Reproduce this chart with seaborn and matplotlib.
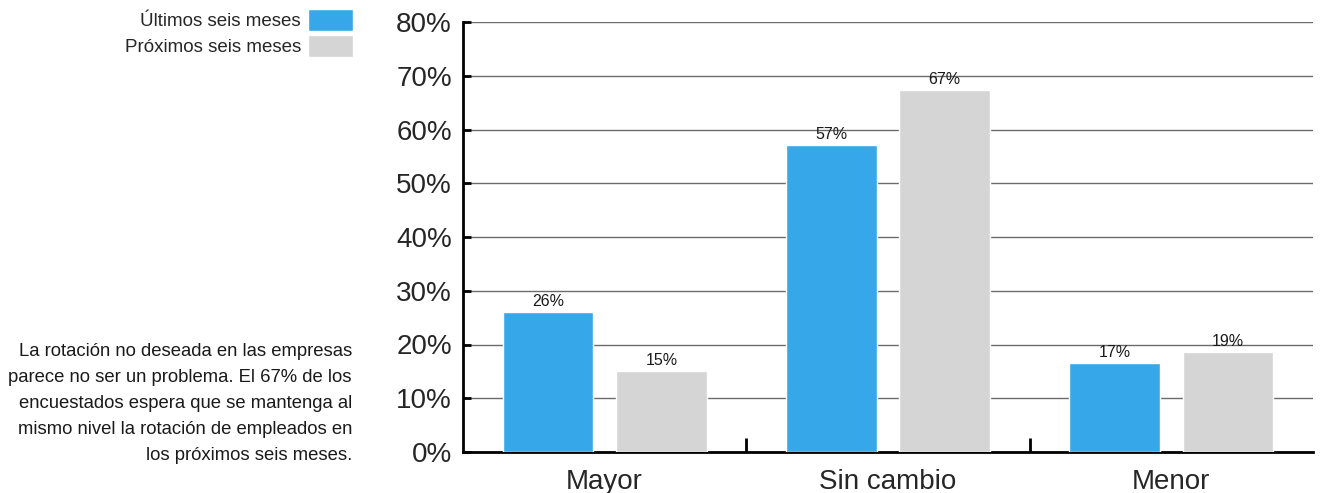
import pandas as pd
import matplotlib.pyplot as plt
import seaborn as sns
from matplotlib.ticker import FixedLocator, FuncFormatter

# data
categories = ['Mayor', 'Sin cambio', 'Menor']
series_names = ['Últimos seis meses', 'Próximos seis meses']
ultimos = [26.1, 57.1, 16.6]
proximos = [15.1, 67.3, 18.6]
colors = ['#36A7E8', '#D5D5D5']

note = ('La rotación no deseada en las empresas\n'
        'parece no ser un problema. El 67% de los\n'
        'encuestados espera que se mantenga al\n'
        'mismo nivel la rotación de empleados en\n'
        'los próximos seis meses.')

df = pd.DataFrame({
    'cat': categories * 2,
    'serie': [series_names[0]] * 3 + [series_names[1]] * 3,
    'val': ultimos + proximos,
})

sns.set_style('white')
plt.rcParams['font.family'] = ['Liberation Sans', 'DejaVu Sans']

fig = plt.figure(figsize=(13.2, 4.93), dpi=100)
ax = fig.add_axes([463 / 1320, 1 - 452 / 493, 850 / 1320, 430 / 493])

sns.barplot(data=df, x='cat', y='val', hue='serie', palette=colors,
            width=0.8, gap=0.2, saturation=1, ax=ax, zorder=3)

for cont in ax.containers:
    ax.bar_label(cont, labels=[f'{v:.0f}%' for v in cont.datavalues],
                 padding=2, fontsize=11.5, color='#1a1a1a', zorder=4)

ax.set_ylim(0, 80)
ax.set_xlim(-0.5, 2.5)
ax.set_yticks(range(0, 81, 10))
ax.yaxis.set_major_formatter(FuncFormatter(lambda v, p: f'{v:.0f}%'))
ax.grid(axis='y', color='#6b6b6b', linewidth=1, zorder=0)
ax.set_axisbelow(True)
ax.tick_params(axis='y', direction='in', length=6, width=2, color='black',
               labelsize=20, pad=8, left=True)
ax.tick_params(axis='x', which='major', length=0, labelsize=20, pad=12)
ax.xaxis.set_minor_locator(FixedLocator([0.5, 1.5]))
ax.tick_params(axis='x', which='minor', direction='in', length=10, width=2,
               color='black', bottom=True)
ax.set_xlabel('')
ax.set_ylabel('')
for s in ['top', 'right']:
    ax.spines[s].set_visible(False)
for s in ['left', 'bottom']:
    ax.spines[s].set_color('black')
    ax.spines[s].set_linewidth(2)

sns.move_legend(ax, loc='upper right', bbox_to_anchor=(353 / 1320, 1 - 9 / 493),
                bbox_transform=fig.transFigure, frameon=False, title=None,
                markerfirst=False, fontsize=13.5, handlelength=2.4,
                handleheight=1.45, handletextpad=0.37, labelspacing=0.2,
                borderpad=0, borderaxespad=0)

fig.text(352 / 1320, 1 - 343 / 493, note, ha='right', va='top',
         fontsize=13.3, linespacing=1.7, color='#1a1a1a')

fig.savefig('out.png', dpi=100)
